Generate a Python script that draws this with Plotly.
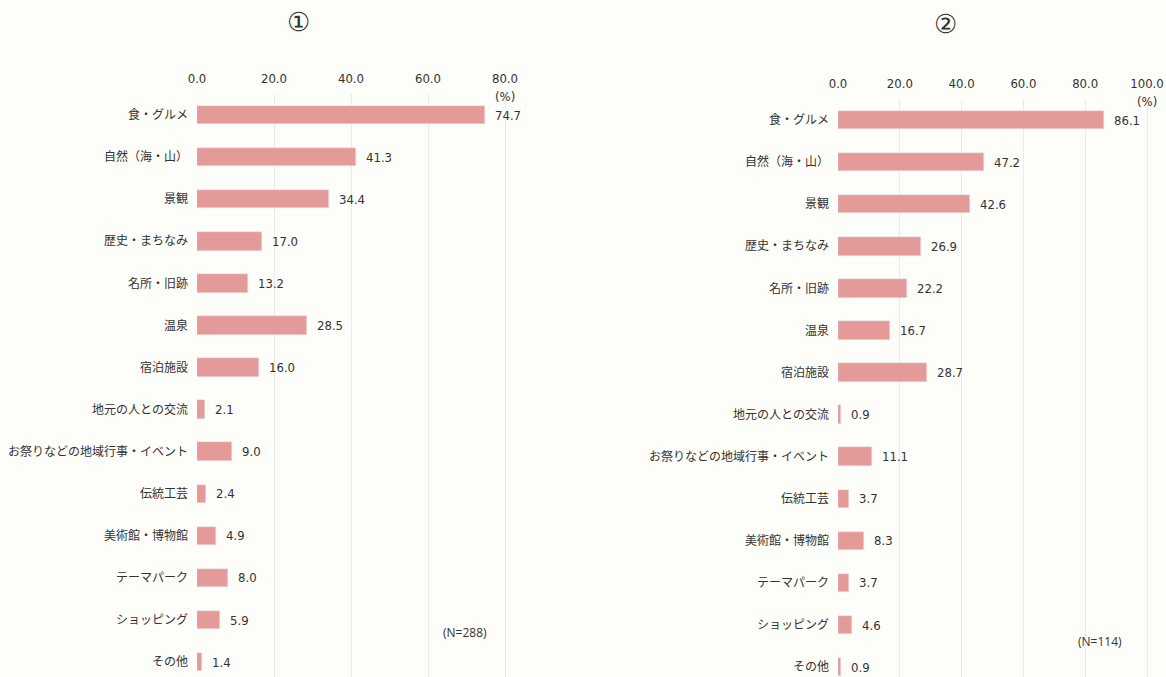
import plotly.graph_objects as go

# Categories (shared by both panels)
categories = [
    "食・グルメ", "自然（海・山）", "景観", "歴史・まちなみ", "名所・旧跡", "温泉",
    "宿泊施設", "地元の人との交流", "お祭りなどの地域行事・イベント", "伝統工芸",
    "美術館・博物館", "テーマパーク", "ショッピング", "その他",
]

# Panel ① values (%)
values_1 = [74.7, 41.3, 34.4, 17.0, 13.2, 28.5, 16.0, 2.1, 9.0, 2.4, 4.9, 8.0, 5.9, 1.4]
# Panel ② values (%)
values_2 = [86.1, 47.2, 42.6, 26.9, 22.2, 16.7, 28.7, 0.9, 11.1, 3.7, 8.3, 3.7, 4.6, 0.9]

ticks_1 = [0, 20, 40, 60, 80]
ticks_2 = [0, 20, 40, 60, 80, 100]
n_1 = "(N=288)"
n_2 = "(N=114)"

W, H = 1166, 677
BAR = "#e59a9a"
GRID = "#ebebe5"
BG = "#fdfdf9"
CJK = "Noto Sans CJK JP"
NUM = "Liberation Sans Narrow, DejaVu Sans Condensed, Noto Sans CJK JP"

pos = list(range(len(categories)))

fig = go.Figure()
fig.add_trace(go.Bar(x=values_1, y=pos, orientation="h", marker_color=BAR,
                     width=0.44, xaxis="x", yaxis="y", showlegend=False))
fig.add_trace(go.Bar(x=values_2, y=pos, orientation="h", marker_color=BAR,
                     width=0.44, xaxis="x2", yaxis="y2", showlegend=False))

# value labels beside each bar
ann = []
for xa, ya, vals in (("x", "y", values_1), ("x2", "y2", values_2)):
    for i, v in enumerate(vals):
        ann.append(dict(x=v, y=i, xref=xa, yref=ya, text=f"{v:.1f}", showarrow=False,
                        xanchor="left", xshift=8, font=dict(family=NUM, size=13, color="#333")))

# unit labels under the last tick of each axis
ann.append(dict(x=80, y=-0.5, xref="x", yref="y", text="(%)", showarrow=False,
                xanchor="center", yanchor="middle", yshift=-3,
                font=dict(family=NUM, size=13, color="#333")))
ann.append(dict(x=100, y=-0.5, xref="x2", yref="y2", text="(%)", showarrow=False,
                xanchor="center", yanchor="middle", yshift=-2,
                font=dict(family=NUM, size=13, color="#333")))

# panel titles
ann.append(dict(x=298 / W, y=1 - 22 / H, xref="paper", yref="paper", text="①",
                xanchor="center", yanchor="middle", showarrow=False,
                font=dict(family="DejaVu Serif", size=26, color="#333")))
ann.append(dict(x=945 / W, y=1 - 24 / H, xref="paper", yref="paper", text="②",
                xanchor="center", yanchor="middle", showarrow=False,
                font=dict(family="DejaVu Serif", size=26, color="#333")))

# sample sizes
ann.append(dict(x=465 / W, y=1 - 632 / H, xref="paper", yref="paper", text=n_1,
                xanchor="center", yanchor="middle", showarrow=False,
                font=dict(family="Open Sans", size=12, color="#333")))
ann.append(dict(x=1100 / W, y=1 - 641 / H, xref="paper", yref="paper", text=n_2,
                xanchor="center", yanchor="middle", showarrow=False,
                font=dict(family="Open Sans", size=12, color="#333")))

step = 42.08
top1, top2 = 94, 99
yr1 = [-0.5 + (H - top1) / step, -0.5]
yr2 = [-0.5 + (H - top2) / step, -0.5]

x0_1, ppu_1 = 197, 3.85
x0_2, ppu_2 = 838, 3.09
xr1 = [0, 84]
xr2 = [0, 105]

def xaxis(x0, ppu, xr, ticks, anchor):
    return dict(
        domain=[x0 / W, (x0 + ppu * (xr[1] - xr[0])) / W], range=xr, anchor=anchor,
        side="top", tickvals=ticks, ticktext=[f"{t:.1f}" for t in ticks],
        showgrid=True, gridcolor=GRID, gridwidth=1, zeroline=False,
        showline=False, ticks="", ticklen=0, ticklabelstandoff=7, automargin=False,
        tickfont=dict(family=NUM, size=13, color="#333"), fixedrange=True,
    )

def yaxis(anchor, yr, top):
    return dict(
        domain=[0, 1 - top / H], range=yr, anchor=anchor,
        tickvals=pos, ticktext=categories, showgrid=False, zeroline=False,
        ticks="", ticklen=0, ticklabelstandoff=8, automargin=False,
        tickfont=dict(family=CJK, size=12, color="#333"), fixedrange=True,
    )

fig.update_layout(
    width=W, height=H,
    margin=dict(l=0, r=0, t=0, b=0),
    paper_bgcolor=BG, plot_bgcolor=BG,
    xaxis=xaxis(x0_1, ppu_1, xr1, ticks_1, "y"),
    xaxis2=xaxis(x0_2, ppu_2, xr2, ticks_2, "y2"),
    yaxis=yaxis("x", yr1, top1),
    yaxis2=yaxis("x2", yr2, top2),
    annotations=ann,
    bargap=0,
)

fig.write_html("out.html")
